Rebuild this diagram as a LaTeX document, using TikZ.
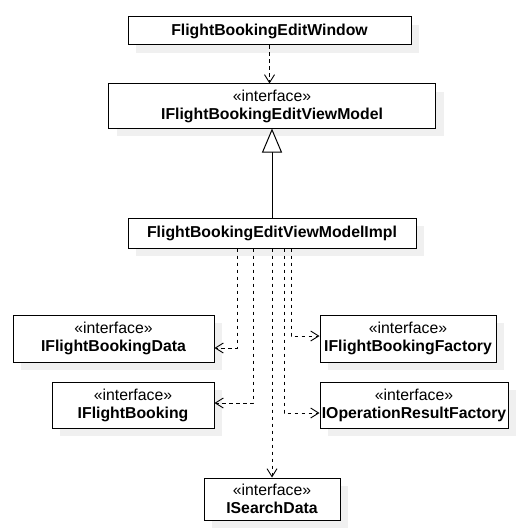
\documentclass[tikz,border=0pt]{standalone}
\usepackage{fontspec}
\setmainfont{Liberation Sans}
\usetikzlibrary{positioning,arrows.meta,calc,shadows}

\begin{document}
\begin{tikzpicture}[
    x=1pt, y=-1pt,
    every node/.style={align=center, font=\fontsize{15.8}{18}\selectfont},
    cls/.style={rectangle, draw=black, line width=1pt, fill=white, inner sep=0pt,
        drop shadow={shadow xshift=8pt, shadow yshift=-8pt, fill=black!6, opacity=1}},
    dep/.style={line width=0.9pt, dash pattern=on 3.5pt off 3.5pt, -{Straight Barb[length=8pt, width=10pt]}},
    realize/.style={line width=1pt, -{Triangle[open, length=24pt, width=20pt, fill=white]}}
]
\useasboundingbox (0,0) rectangle (523,532);

% Window and view model
\node[cls, minimum width=283pt, minimum height=28pt] (win) at (269.5,31) {\textbf{FlightBookingEditWindow}};
\node[cls, minimum width=327pt, minimum height=44pt] (ivm) at (272,106) {«interface»\\\textbf{IFlightBookingEditViewModel}};
\node[cls, minimum width=288pt, minimum height=30pt] (impl) at (272,233) {\textbf{FlightBookingEditViewModelImpl}};

% Dependencies of the implementation
\node[cls, minimum width=201pt, minimum height=47pt] (data) at (113.5,338.5) {«interface»\\\textbf{IFlightBookingData}};
\node[cls, minimum width=162pt, minimum height=46pt] (booking) at (133,405) {«interface»\\\textbf{IFlightBooking}};
\node[cls, minimum width=176pt, minimum height=47pt] (factory) at (408,338.5) {«interface»\\\textbf{IFlightBookingFactory}};
\node[cls, minimum width=188pt, minimum height=46pt] (opres) at (414,405) {«interface»\\\textbf{IOperationResultFactory}};
\node[cls, minimum width=136pt, minimum height=42pt] (search) at (272,499) {«interface»\\\textbf{ISearchData}};

% Connectors
\draw[dep] (win.south) -- (win.south |- ivm.north);
\draw[realize] (impl) -- (ivm);

\draw[dep] ($(impl.south)+(-35,0)$) |- ($(data.east)+(0,9.5)$);
\draw[dep] ($(impl.south)+(-19,0)$) |- ($(booking.east)+(0,-2)$);
\draw[dep] (impl) -- (search);
\draw[dep] ($(impl.south)+(12,0)$) |- ($(opres.west)+(0,8)$);
\draw[dep] ($(impl.south)+(19,0)$) |- ($(factory.west)+(0,-2.5)$);

\end{tikzpicture}
\end{document}
